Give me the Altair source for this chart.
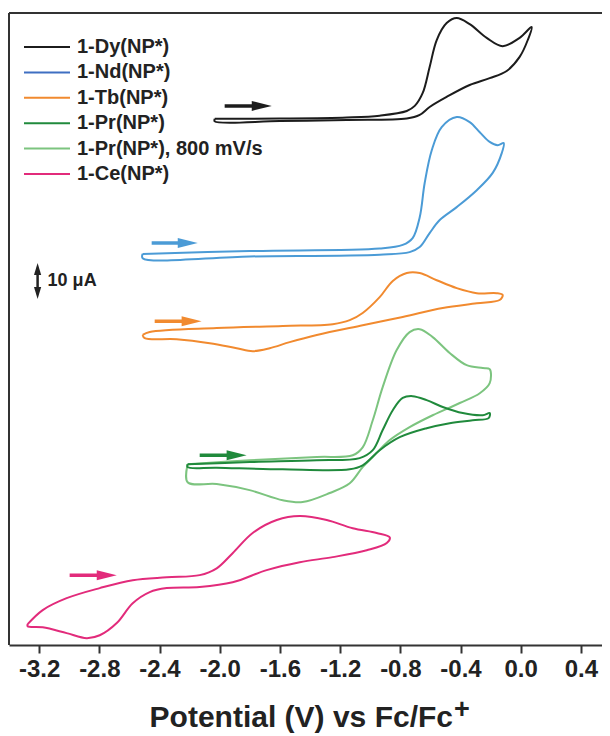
import altair as alt
import pandas as pd

# ---------------- data (potential in V vs Fc/Fc+, stacked current in µA) ----------------
series_names = ["1-Dy(NP*)", "1-Nd(NP*)", "1-Tb(NP*)", "1-Pr(NP*)",
                "1-Pr(NP*), 800 mV/s", "1-Ce(NP*)"]
curve_colors = ["#1c1c1c", "#4b9bd6", "#f18a2f", "#208a3c", "#7cc47f", "#e22b7b"]
legend_colors = ["#1c1c1c", "#3f6fc2", "#f18a2f", "#208a3c", "#7cc47f", "#e22b7b"]

dy_v = [-2.033, -1.601, -1.156, -0.937, -0.757, -0.704, -0.651, -0.605, -0.558, -0.492,
        -0.425, -0.339, -0.226, -0.120, -0.007, 0.073, 0.047, -0.007, -0.093, -0.206,
        -0.339, -0.492, -0.605, -0.671, -0.757, -1.156, -1.601, -2.033]
dy_i = [145.6, 145.7, 146.0, 146.5, 147.8, 149.2, 152.8, 160.0, 167.5, 172.2,
        173.6, 171.9, 168.1, 165.8, 168.1, 171.1, 167.5, 162.8, 158.9, 156.9,
        155.0, 151.7, 148.9, 146.7, 145.7, 145.3, 145.0, 144.9]

nd_v = [-2.512, -1.801, -0.937, -0.784, -0.718, -0.671, -0.638, -0.591, -0.525, -0.425,
        -0.339, -0.272, -0.206, -0.153, -0.113, -0.126, -0.186, -0.292, -0.425, -0.538,
        -0.605, -0.671, -0.738, -0.937, -1.801, -2.512]
nd_i = [108.1, 108.9, 109.6, 110.6, 112.5, 118.3, 127.8, 136.9, 143.3, 146.1,
        144.7, 141.9, 139.2, 138.3, 138.9, 136.1, 130.6, 125.8, 121.1, 117.5,
        113.9, 110.0, 108.6, 107.9, 107.4, 106.9]

tb_v = [-2.512, -2.465, -2.020, -1.581, -1.249, -1.136, -1.050, -0.937, -0.850, -0.757,
        -0.671, -0.558, -0.425, -0.292, -0.159, -0.120, -0.140, -0.292, -0.518, -0.784,
        -1.050, -1.355, -1.535, -1.668, -1.781, -1.887, -2.066, -2.286, -2.498]
tb_i = [85.6, 86.4, 87.5, 88.1, 88.6, 89.7, 91.7, 96.1, 100.6, 102.8,
        102.8, 100.8, 98.6, 97.2, 97.2, 96.7, 95.3, 94.4, 93.1, 90.6,
        88.3, 85.6, 83.6, 81.9, 81.1, 81.9, 83.3, 84.4, 84.7]

pr_v = [-2.213, -1.801, -1.355, -1.070, -0.983, -0.917, -0.850, -0.784, -0.718, -0.625,
        -0.518, -0.385, -0.252, -0.206, -0.213, -0.319, -0.472, -0.625, -0.804, -0.937,
        -1.050, -1.136, -1.581, -2.020, -2.213]
pr_i = [49.7, 50.3, 50.8, 51.4, 53.6, 59.2, 64.7, 68.1, 68.6, 67.5,
        65.6, 63.9, 63.3, 63.9, 62.5, 61.9, 61.1, 59.7, 57.2, 53.6,
        49.4, 48.3, 48.3, 48.75, 48.9]

pr800_v = [-2.213, -1.801, -1.355, -1.116, -1.050, -0.983, -0.917, -0.824, -0.738, -0.671,
           -0.585, -0.472, -0.359, -0.252, -0.206, -0.206, -0.272, -0.405, -0.585, -0.738,
           -0.870, -0.983, -1.050, -1.136, -1.269, -1.449, -1.581, -1.801, -2.020, -2.213]
pr800_i = [49.7, 50.8, 51.7, 52.2, 54.4, 61.9, 71.1, 81.4, 86.4, 87.2,
           85.0, 80.6, 77.2, 76.4, 76.1, 72.2, 69.4, 66.7, 63.3, 60.0,
           56.4, 51.7, 48.9, 44.4, 41.7, 39.2, 39.7, 42.5, 44.2, 44.7]

ce_v = [-3.276, -3.176, -3.017, -2.797, -2.578, -2.352, -2.133, -2.020, -1.914, -1.781,
        -1.621, -1.468, -1.289, -1.116, -0.957, -0.870, -0.890, -1.023, -1.249, -1.468,
        -1.688, -1.914, -2.133, -2.352, -2.465, -2.578, -2.684, -2.797, -2.884, -3.017,
        -3.176, -3.276]
ce_i = [5.3, 9.2, 12.5, 15.3, 17.5, 18.3, 18.9, 20.8, 25.0, 30.6,
        34.2, 35.3, 34.2, 31.9, 30.6, 29.4, 27.8, 25.8, 23.9, 22.5,
        20.3, 16.9, 15.6, 15.3, 14.2, 11.1, 5.6, 2.2, 1.4, 2.8,
        4.4, 4.7]

# scan-direction arrows
arrow_series = ["1-Dy(NP*)", "1-Nd(NP*)", "1-Tb(NP*)", "1-Pr(NP*)", "1-Ce(NP*)"]
arrow_start = [-1.967, -2.452, -2.432, -2.133, -2.997]
arrow_end = [-1.654, -2.146, -2.120, -1.821, -2.684]
arrow_y = [149.2, 111.1, 89.4, 52.2, 18.9]

# 10 µA scale bar
bar_x = [-3.21]
bar_low = [95.6]
bar_high = [105.6]
bar_label = ["10 μA"]

x_ticks = [-3.2, -2.8, -2.4, -2.0, -1.6, -1.2, -0.8, -0.4, 0.0, 0.4]
x_title = "Potential (V) vs Fc/Fc"
x_title_sup = "+"

# ---------------- build tables ----------------
curves = [("1-Dy(NP*)", dy_v, dy_i), ("1-Nd(NP*)", nd_v, nd_i), ("1-Tb(NP*)", tb_v, tb_i),
          ("1-Pr(NP*), 800 mV/s", pr800_v, pr800_i), ("1-Pr(NP*)", pr_v, pr_i),
          ("1-Ce(NP*)", ce_v, ce_i)]
rows = []
for name, vs, cs in curves:
    pts = list(zip(vs, cs)) + [(vs[0], cs[0])]  # close the loop
    for k, (v, c) in enumerate(pts):
        rows.append({"series": name, "idx": k, "potential": v, "current": c})
df = pd.DataFrame(rows)

arrow_df = pd.DataFrame({"series": arrow_series, "x0": arrow_start,
                         "x1": arrow_end, "y": arrow_y})
bar_df = pd.DataFrame({"x": bar_x, "lo": bar_low, "hi": bar_high, "label": bar_label})

leg_df = pd.DataFrame({"series": series_names})
leg_df["row"] = range(len(series_names))
leg_df["ly"] = 34 + leg_df["row"] * 25.4
leg_df["lc"] = legend_colors

W, H = 593, 632
FONT = "Liberation Sans"
DARK = "#222222"
xscale = alt.Scale(domain=[-3.4, -3.4 + W / 150.5], nice=False, zero=False)
yscale = alt.Scale(domain=[-0.5, 175], nice=False, zero=False)
cscale = alt.Scale(domain=series_names, range=curve_colors)

lines = alt.Chart(df).mark_line(strokeWidth=2, interpolate="catmull-rom").encode(
    x=alt.X("potential:Q", scale=xscale,
            axis=alt.Axis(values=x_ticks, grid=False, title=None,
                          labelExpr="replace(format(datum.value, '.1f'), '\u2212', '-')")),
    y=alt.Y("current:Q", scale=yscale, axis=None),
    color=alt.Color("series:N", scale=cscale, legend=None),
    detail="series:N",
    order="idx:Q",
)

shafts = alt.Chart(arrow_df).mark_rule(strokeWidth=3.5, x2Offset=-10).encode(
    x=alt.X("x0:Q", scale=xscale), x2="x1:Q", y=alt.Y("y:Q", scale=yscale),
    color=alt.Color("series:N", scale=cscale, legend=None),
)
heads = alt.Chart(arrow_df).mark_point(shape="M-1,-0.5L1,0L-1,0.5Z", size=400, filled=True,
                                        opacity=1, xOffset=-10).encode(
    x=alt.X("x1:Q", scale=xscale), y=alt.Y("y:Q", scale=yscale),
    color=alt.Color("series:N", scale=cscale, legend=None),
)

bar_rule = alt.Chart(bar_df).mark_rule(color=DARK, strokeWidth=2.5, yOffset=6, y2Offset=-6).encode(
    x=alt.X("x:Q", scale=xscale), y=alt.Y("hi:Q", scale=yscale), y2="lo:Q")
bar_up = alt.Chart(bar_df).mark_point(shape="M0,-1L0.6,1L-0.6,1Z", size=144, filled=True,
                                      opacity=1, color=DARK, yOffset=6).encode(
    x=alt.X("x:Q", scale=xscale), y=alt.Y("hi:Q", scale=yscale))
bar_down = alt.Chart(bar_df).mark_point(shape="M0,1L0.6,-1L-0.6,-1Z", size=144, filled=True,
                                        opacity=1, color=DARK, yOffset=-6).encode(
    x=alt.X("x:Q", scale=xscale), y=alt.Y("lo:Q", scale=yscale))
bar_text = alt.Chart(bar_df).transform_calculate(mid="(datum.lo + datum.hi) / 2").mark_text(
    align="left", baseline="middle", font=FONT, fontWeight="bold", fontSize=18,
    color=DARK, dx=10).encode(
    x=alt.X("x:Q", scale=xscale), y=alt.Y("mid:Q", scale=yscale), text="label:N")

leg_lines = alt.Chart(leg_df).mark_rule(strokeWidth=2).encode(
    x=alt.value(15), x2=alt.value(61), y=alt.Y("ly:Q", scale=None),
    color=alt.Color("lc:N", scale=None))
leg_text = alt.Chart(leg_df).mark_text(align="left", baseline="middle", font=FONT,
                                       fontWeight="bold", fontSize=20, color=DARK).encode(
    x=alt.value(68), y=alt.Y("ly:Q", scale=None), text="series:N")

dummy = pd.DataFrame({"a": [0]})
frame_top = alt.Chart(dummy).mark_rule(color="#333", strokeWidth=2).encode(
    x=alt.value(0), x2=alt.value(W), y=alt.value(0))
frame_left = alt.Chart(dummy).mark_rule(color="#333", strokeWidth=2).encode(
    x=alt.value(0), y=alt.value(0), y2=alt.value(H))

title_main = alt.Chart(dummy).mark_text(
    text=x_title, align="right", baseline="alphabetic", font=FONT, fontWeight="bold",
    fontSize=30, color=DARK).encode(x=alt.value(444), y=alt.value(714))
title_sup = alt.Chart(dummy).mark_text(
    text=x_title_sup, align="center", baseline="middle", font=FONT, fontWeight="bold",
    fontSize=27, color=DARK).encode(x=alt.value(453), y=alt.value(697))

chart = alt.layer(
    frame_top, frame_left, lines, shafts, heads, bar_rule, bar_up, bar_down, bar_text,
    leg_lines, leg_text, title_main, title_sup,
).properties(
    width=W, height=H,
    autosize=alt.AutoSizeParams(type="none"),
    padding={"left": 1, "top": 5, "right": 0, "bottom": 89},
    background="white",
).configure_view(stroke=None).configure_axis(
    domainColor="#333", domainWidth=2, tickColor="#333", tickWidth=2, tickSize=8,
    labelFont=FONT, labelFontWeight="bold", labelFontSize=24, labelColor=DARK,
    labelPadding=4,
)

chart.save("out.html", embed_options={"renderer": "svg", "actions": False})
